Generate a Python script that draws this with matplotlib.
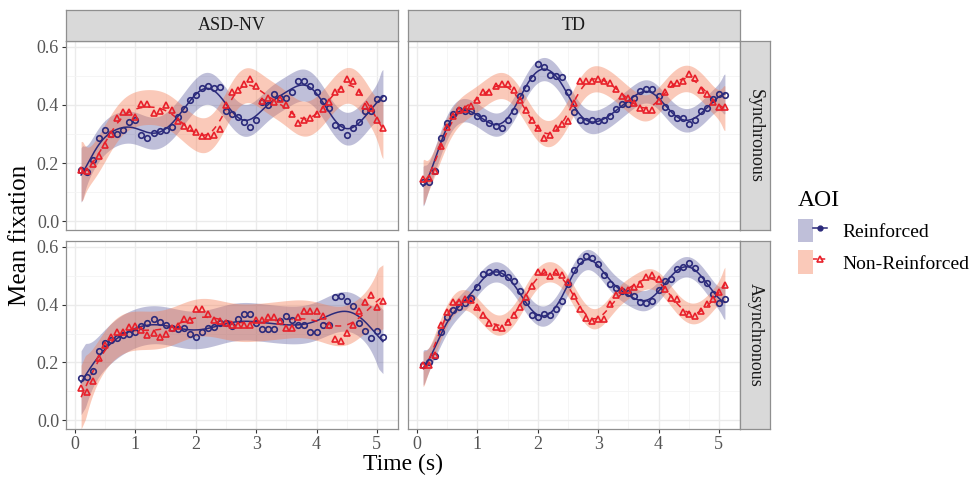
import numpy as np
import matplotlib
matplotlib.use("Agg")
import matplotlib.pyplot as plt
from matplotlib.patches import Patch
from matplotlib.lines import Line2D
from matplotlib.legend_handler import HandlerTuple

plt.rcParams['font.family'] = ['Liberation Serif', 'DejaVu Serif']

time = np.linspace(0.1, 5.1, 51)

groups = ['ASD-NV', 'TD']
conditions = ['Synchronous', 'Asynchronous']

# mean fixation per 100 ms bin
asd_sync_reinf = [0.175, 0.17, 0.21, 0.287, 0.313, 0.30, 0.299, 0.313, 0.343, 0.347,
                  0.297, 0.287, 0.305, 0.31, 0.313, 0.324, 0.359, 0.385, 0.417, 0.434,
                  0.46, 0.466, 0.457, 0.462, 0.379, 0.368, 0.359, 0.343, 0.324, 0.35,
                  0.411, 0.40, 0.437, 0.425, 0.425, 0.445, 0.483, 0.483, 0.466, 0.443,
                  0.414, 0.389, 0.331, 0.324, 0.297, 0.32, 0.343, 0.379, 0.38, 0.42, 0.423]
asd_sync_nonreinf = [0.178, 0.172, 0.198, 0.224, 0.264, 0.299, 0.356, 0.376, 0.376, 0.359,
                     0.405, 0.405, 0.374, 0.379, 0.40, 0.382, 0.345, 0.327, 0.32, 0.308,
                     0.293, 0.293, 0.297, 0.316, 0.40, 0.446, 0.45, 0.471, 0.491, 0.466,
                     0.414, 0.425, 0.411, 0.42, 0.40, 0.37, 0.339, 0.347, 0.354, 0.368,
                     0.385, 0.411, 0.443, 0.454, 0.489, 0.481, 0.443, 0.397, 0.39, 0.347, 0.32]
td_sync_reinf = [0.136, 0.136, 0.172, 0.285, 0.339, 0.368, 0.382, 0.379, 0.379, 0.362,
                 0.354, 0.339, 0.328, 0.322, 0.347, 0.379, 0.431, 0.46, 0.494, 0.54,
                 0.529, 0.502, 0.50, 0.497, 0.443, 0.377, 0.347, 0.345, 0.347, 0.345,
                 0.35, 0.362, 0.385, 0.405, 0.405, 0.425, 0.448, 0.454, 0.454, 0.431,
                 0.393, 0.374, 0.354, 0.354, 0.336, 0.35, 0.379, 0.389, 0.42, 0.437, 0.433]
td_sync_nonreinf = [0.144, 0.149, 0.172, 0.259, 0.324, 0.362, 0.382, 0.385, 0.397, 0.416,
                    0.443, 0.443, 0.466, 0.471, 0.471, 0.45, 0.416, 0.382, 0.35, 0.322,
                    0.285, 0.296, 0.322, 0.336, 0.345, 0.408, 0.483, 0.483, 0.483, 0.489,
                    0.483, 0.477, 0.454, 0.431, 0.425, 0.408, 0.389, 0.382, 0.382, 0.414,
                    0.446, 0.471, 0.477, 0.483, 0.506, 0.494, 0.45, 0.439, 0.411, 0.393, 0.393]
asd_async_reinf = [0.146, 0.149, 0.171, 0.238, 0.266, 0.278, 0.286, 0.295, 0.299, 0.306,
                   0.327, 0.335, 0.35, 0.341, 0.329, 0.318, 0.315, 0.32, 0.299, 0.289,
                   0.304, 0.32, 0.323, 0.335, 0.335, 0.327, 0.352, 0.369, 0.369, 0.335,
                   0.315, 0.315, 0.315, 0.343, 0.361, 0.346, 0.329, 0.329, 0.304, 0.304,
                   0.331, 0.331, 0.426, 0.43, 0.414, 0.394, 0.338, 0.309, 0.286, 0.309, 0.288]
asd_async_nonreinf = [0.112, 0.098, 0.137, 0.215, 0.261, 0.289, 0.304, 0.306, 0.323, 0.327,
                      0.312, 0.295, 0.301, 0.289, 0.297, 0.318, 0.327, 0.35, 0.346, 0.384,
                      0.384, 0.369, 0.346, 0.343, 0.335, 0.331, 0.329, 0.329, 0.329, 0.346,
                      0.346, 0.358, 0.358, 0.343, 0.318, 0.32, 0.358, 0.377, 0.377, 0.377,
                      0.361, 0.329, 0.281, 0.274, 0.301, 0.329, 0.377, 0.409, 0.432, 0.392, 0.411]
td_async_reinf = [0.19, 0.201, 0.224, 0.304, 0.358, 0.381, 0.392, 0.407, 0.423, 0.461,
                  0.506, 0.512, 0.514, 0.51, 0.495, 0.48, 0.446, 0.409, 0.363, 0.358,
                  0.369, 0.363, 0.384, 0.411, 0.472, 0.521, 0.552, 0.567, 0.56, 0.541,
                  0.501, 0.472, 0.457, 0.446, 0.441, 0.43, 0.409, 0.404, 0.411, 0.45,
                  0.48, 0.489, 0.523, 0.529, 0.544, 0.526, 0.489, 0.475, 0.438, 0.404, 0.418]
td_async_nonreinf = [0.19, 0.192, 0.226, 0.329, 0.375, 0.409, 0.409, 0.418, 0.415, 0.392,
                     0.363, 0.338, 0.323, 0.32, 0.341, 0.363, 0.392, 0.426, 0.466, 0.514,
                     0.514, 0.498, 0.512, 0.503, 0.478, 0.43, 0.384, 0.354, 0.343, 0.352,
                     0.352, 0.403, 0.434, 0.449, 0.449, 0.461, 0.472, 0.495, 0.503, 0.489,
                     0.453, 0.423, 0.418, 0.373, 0.369, 0.361, 0.377, 0.403, 0.418, 0.443, 0.469]

# half-width of the confidence band in the middle of the time range
band_reinf = {('ASD-NV', 'Synchronous'): 0.055, ('TD', 'Synchronous'): 0.04,
              ('ASD-NV', 'Asynchronous'): 0.065, ('TD', 'Asynchronous'): 0.035}
band_nonreinf = {('ASD-NV', 'Synchronous'): 0.06, ('TD', 'Synchronous'): 0.045,
                 ('ASD-NV', 'Asynchronous'): 0.065, ('TD', 'Asynchronous'): 0.035}
# smoother bandwidth (s) per panel
bandwidth = {('ASD-NV', 'Synchronous'): 0.25, ('TD', 'Synchronous'): 0.23,
             ('ASD-NV', 'Asynchronous'): 0.42, ('TD', 'Asynchronous'): 0.23}

series = {
    ('ASD-NV', 'Synchronous'): (asd_sync_reinf, asd_sync_nonreinf),
    ('TD', 'Synchronous'): (td_sync_reinf, td_sync_nonreinf),
    ('ASD-NV', 'Asynchronous'): (asd_async_reinf, asd_async_nonreinf),
    ('TD', 'Asynchronous'): (td_async_reinf, td_async_nonreinf),
}

BLUE = '#2B2A7B'
RED = '#E8202A'
BLUE_FILL = '#2E2E83'
RED_FILL = '#F47A50'
BORDER = '#8F8F8F'


def local_fit(t, y, grid, bw):
    """Gaussian-weighted local quadratic smoother; returns fit and the norm
    of the smoothing weights (proportional to the standard error)."""
    y = np.asarray(y)
    fit, lnorm = [], []
    for g in grid:
        d = t - g
        w = np.exp(-0.5 * (d / bw) ** 2)
        X = np.column_stack([np.ones_like(d), d, d ** 2])
        XtW = X.T * w
        L = np.linalg.solve(XtW @ X, XtW)[0]
        fit.append(L @ y)
        lnorm.append(np.sqrt(L @ L))
    return np.array(fit), np.array(lnorm)


W, H = 971, 479
fig = plt.figure(figsize=(W / 100, H / 100), dpi=100)


def frac(x0, y0, x1, y1):
    return [x0 / W, 1 - y1 / H, (x1 - x0) / W, (y1 - y0) / H]


def strip(rect, label, rotation=0):
    st = fig.add_axes(rect)
    st.text(0.5, 0.5, label, ha='center', va='center', fontsize=13,
            color='#1A1A1A', rotation=rotation, transform=st.transAxes)
    st.set_facecolor('#D9D9D9')
    st.set_xticks([])
    st.set_yticks([])
    for s in st.spines.values():
        s.set_color(BORDER)
        s.set_linewidth(0.9)


col_x = [(66, 398), (408, 740)]
row_y = [(41, 230), (241, 429)]
grid_t = np.linspace(time[0], time[-1], 300)
mid = np.argmin(np.abs(grid_t - 2.6))

for r, cond in enumerate(conditions):
    for c, grp in enumerate(groups):
        x0, x1 = col_x[c]
        y0, y1 = row_y[r]
        ax = fig.add_axes(frac(x0, y0, x1, y1))
        ax.set_xlim(-0.15, 5.35)
        ax.set_ylim(-0.03, 0.62)
        ax.set_xticks([0, 1, 2, 3, 4, 5])
        ax.set_xticks(np.arange(0.5, 5.0, 1.0), minor=True)
        ax.set_yticks([0.0, 0.2, 0.4, 0.6])
        ax.set_yticks([0.1, 0.3, 0.5], minor=True)
        ax.grid(which='major', color='#EBEBEB', lw=1.0)
        ax.grid(which='minor', color='#F4F4F4', lw=0.6)
        ax.set_axisbelow(True)
        for s in ax.spines.values():
            s.set_color(BORDER)
            s.set_linewidth(0.9)
        ax.tick_params(which='minor', length=0)
        ax.tick_params(which='major', length=3, width=0.8, color='#333333',
                       labelcolor='#555555', labelsize=13, pad=2)
        if c > 0:
            ax.tick_params(axis='y', left=False, labelleft=False)
        else:
            ax.set_yticklabels(['0.0', '0.2', '0.4', '0.6'])
        if r == 0:
            ax.tick_params(axis='x', bottom=False, labelbottom=False)

        reinf, nonreinf = series[(grp, cond)]
        bw = bandwidth[(grp, cond)]
        fits = []
        for vals, band, fill, fa in [
                (reinf, band_reinf[(grp, cond)], BLUE_FILL, 0.3),
                (nonreinf, band_nonreinf[(grp, cond)], RED_FILL, 0.4)]:
            fit, ln = local_fit(time, vals, grid_t, bw)
            # band widens towards the ends, but not without limit
            half = band * np.minimum(ln / ln[mid], 1.7)
            ax.fill_between(grid_t, fit - half, fit + half, color=fill,
                            alpha=fa, lw=0, zorder=2)
            fits.append(fit)
        ax.plot(grid_t, fits[0], color=BLUE, lw=1.1, zorder=3)
        ax.plot(grid_t, fits[1], color=RED, lw=1.1, ls=(0, (4, 4)), zorder=3)
        ax.plot(time, reinf, ls='none', marker='o', ms=4, mfc='none',
                mec=BLUE, mew=1.2, zorder=4)
        ax.plot(time, nonreinf, ls='none', marker='^', ms=4.5, mfc='none',
                mec=RED, mew=1.2, zorder=4)

        # facet strips
        if r == 0:
            strip(frac(x0, 10, x1, 41), grp)
        if c == 1:
            strip(frac(740, y0, 770, y1), cond, rotation=-90)

fig.text(20 / W, 1 - 235 / H, 'Mean fixation', rotation=90, ha='center',
         va='center', fontsize=18)
fig.text(403 / W, 1 - 464 / H, 'Time (s)', ha='center', va='center', fontsize=17)

handles = [
    (Patch(facecolor=BLUE_FILL, alpha=0.3, lw=0),
     Line2D([], [], color=BLUE, lw=1.1, marker='o', ms=3.5, mfc=BLUE, mec=BLUE)),
    (Patch(facecolor=RED_FILL, alpha=0.4, lw=0),
     Line2D([], [], color=RED, lw=1.1, ls=(0, (3, 2)), marker='^', ms=4.5,
            mfc='none', mec=RED, mew=1.2)),
]
leg = fig.legend(handles, ['Reinforced', 'Non-Reinforced'],
                 handler_map={tuple: HandlerTuple(ndivide=None, pad=0)},
                 loc='upper left', bbox_to_anchor=(798 / W, 1 - 190 / H),
                 frameon=False, fontsize=14, title='AOI', title_fontsize=17,
                 alignment='left', handlelength=1.5, handleheight=1.5,
                 handletextpad=0.8, labelspacing=0.4, borderpad=0,
                 borderaxespad=0)

fig.savefig('out.png', dpi=100)
